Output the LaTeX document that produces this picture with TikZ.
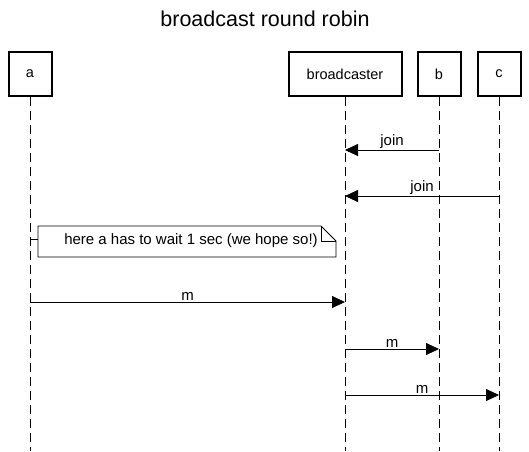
\documentclass[tikz,border=0pt]{standalone}
\usepackage{fontspec}
\setmainfont{Liberation Sans}
\usetikzlibrary{arrows.meta}

\tikzset{
	actor/.style={draw, line width=2pt, minimum height=44pt, inner sep=0pt, font=\fontsize{14.5}{17}\selectfont},
	lifeline/.style={line width=0.8pt, dash pattern={on 9pt off 5pt}},
	msg/.style={line width=0.8pt, -{Triangle[length=13pt,width=12pt]}},
	msglabel/.style={inner sep=1pt, anchor=south, font=\fontsize{15}{18}\selectfont}
}

\begin{document}
\begin{tikzpicture}[x=1pt,y=-1pt]
	\useasboundingbox (0,0) rectangle (529,451);
	\node (title) at (265,19) {\fontsize{21.5}{25}\selectfont broadcast round robin};

	% actors
	\node [actor, minimum width=43pt] (a) at (30,74) {a};
	\node [actor, minimum width=113pt] (bc) at (345,74) {broadcaster};
	\node [actor, minimum width=43pt] (b) at (439,74) {b};
	\node [actor, minimum width=43pt] (c) at (499,74) {c};

	% lifelines
	\coordinate (a-end) at (30,451);
	\coordinate (bc-end) at (345,451);
	\coordinate (b-end) at (439,451);
	\coordinate (c-end) at (499,451);
	\draw [lifeline] (a.south) -- (a-end);
	\draw [lifeline] (bc.south) -- (bc-end);
	\draw [lifeline] (b.south) -- (b-end);
	\draw [lifeline] (c.south) -- (c-end);

	% messages
	\coordinate (j1s) at (439,150);
	\coordinate (j1e) at (345,150);
	\draw [msg] (j1s) -- (j1e) node [msglabel, pos=0.5] {join};

	\coordinate (j2s) at (499,196);
	\coordinate (j2e) at (345,196);
	\draw [msg] (j2s) -- (j2e) node [msglabel, pos=0.5] {join};

	% note
	\draw [line width=0.8pt, fill=white] (38,226) -- (321,226) -- (336,241) -- (336,257) -- (38,257) -- cycle;
	\draw [line width=0.8pt] (321,226) -- (321,241) -- (336,241);
	\node [font=\fontsize{15}{18}\selectfont] (note) at (191,241) {here a has to wait 1 sec (we hope so!)};
	\coordinate (na) at (30,239);
	\coordinate (nb) at (38,239);
	\draw [line width=0.8pt] (na) -- (nb);

	\coordinate (m1s) at (30,302);
	\coordinate (m1e) at (345,302);
	\draw [msg] (m1s) -- (m1e) node [msglabel, pos=0.5] {m};

	\coordinate (m2s) at (345,349);
	\coordinate (m2e) at (439,349);
	\draw [msg] (m2s) -- (m2e) node [msglabel, pos=0.5] {m};

	\coordinate (m3s) at (345,395);
	\coordinate (m3e) at (499,395);
	\draw [msg] (m3s) -- (m3e) node [msglabel, pos=0.5] {m};
\end{tikzpicture}
\end{document}
